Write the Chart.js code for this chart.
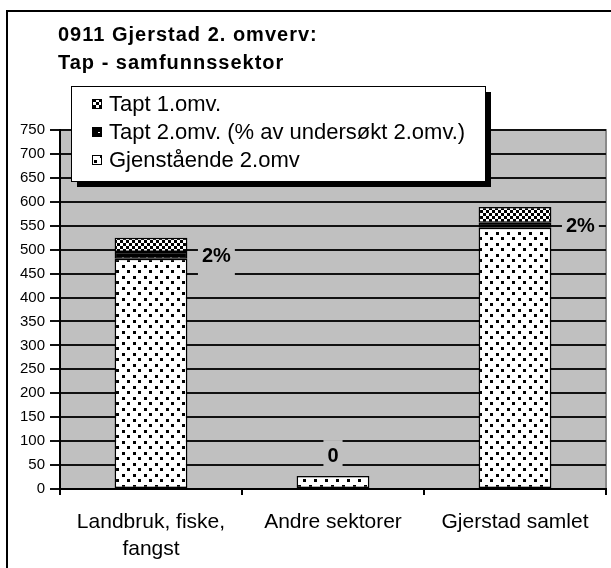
<!DOCTYPE html>
<html>
<head>
<meta charset="utf-8">
<script src="https://cdn.jsdelivr.net/npm/chart.js@4/dist/chart.umd.min.js"></script>
<style>
  html, body { margin: 0; padding: 0; background: #fff; overflow: hidden; }
  #wrap { width: 611px; height: 568px; }
</style>
</head>
<body>
<div id="wrap"><canvas id="c" width="611" height="568"></canvas></div>
<script>
// 0911 Gjerstad 2. omverv – tap per samfunnssektor (stacked bars, Excel-style patterns)
const TITLE = ["0911 Gjerstad 2. omverv:", "Tap - samfunnssektor"];
const CATEGORIES = [["Landbruk, fiske,", "fangst"], "Andre sektorer", "Gjerstad samlet"];
const GJENSTAENDE = [481, 27, 546];
const TAPT2 = [14, 0, 10];
const TAPT1 = [30, 0, 33];
const TAPT2_LABELS = ["2%", "0", "2%"];
const Y_TICKS = [0, 750, 50]; // min, max, step

const FONT = "'Liberation Sans', Arial, sans-serif";
const PLOT_BG = "#c0c0c0";

// --- fill patterns ---
function tile(w, h, draw) {
  const c = document.createElement("canvas");
  c.width = w; c.height = h;
  draw(c.getContext("2d"));
  return c.getContext("2d").createPattern(c, "repeat");
}
const dots = tile(11, 11, (g) => {
  g.fillStyle = "#fff"; g.fillRect(0, 0, 11, 11);
  g.fillStyle = "#000"; g.fillRect(1, 1, 3, 3); g.fillRect(6, 6, 3, 3);
});
const dashes = tile(8, 5, (g) => {
  g.fillStyle = "#000"; g.fillRect(0, 0, 8, 5);
  g.fillStyle = "#fff"; g.fillRect(2, 2, 2, 1);
});
const checker = tile(6, 6, (g) => {
  g.fillStyle = "#fff"; g.fillRect(0, 0, 6, 6);
  g.fillStyle = "#000"; g.fillRect(0, 0, 3, 3); g.fillRect(3, 3, 3, 3);
});

const SERIES = [
  { label: "Tapt 1.omv.", fill: checker },
  { label: "Tapt 2.omv. (% av undersøkt 2.omv.)", fill: dashes },
  { label: "Gjenstående 2.omv", fill: dots },
];

// frame, plot background, title
const backdrop = {
  id: "backdrop",
  beforeDraw(chart) {
    const { ctx, chartArea: a } = chart;
    ctx.save();
    ctx.fillStyle = PLOT_BG;
    ctx.fillRect(a.left, a.top, a.right - a.left, a.bottom - a.top);
    ctx.strokeStyle = "#8a8a8a"; ctx.lineWidth = 2;
    ctx.beginPath(); ctx.moveTo(a.left, a.top); ctx.lineTo(a.right, a.top); ctx.lineTo(a.right, a.bottom); ctx.stroke();
    ctx.strokeStyle = "#000"; ctx.lineWidth = 2;
    ctx.strokeRect(7, 11, 800, 800);
    ctx.fillStyle = "#000";
    ctx.font = `bold 20px ${FONT}`;
    ctx.textBaseline = "middle";
    ctx.letterSpacing = "1px";
    ctx.fillText(TITLE[0], 58, 35);
    ctx.fillText(TITLE[1], 58, 63);
    ctx.restore();
  },
};

// data labels for Tapt 2 with plot-coloured box, plus legend box
const overlay = {
  id: "overlay",
  afterDatasetsDraw(chart) {
    const { ctx } = chart;
    const top = chart.getDatasetMeta(0).data; // Tapt 1 (top of stack)
    const mid = chart.getDatasetMeta(1).data; // Tapt 2
    const y = chart.scales.y;
    ctx.save();
    ctx.font = `bold 20px ${FONT}`;
    ctx.textAlign = "center";
    ctx.textBaseline = "middle";
    TAPT2_LABELS.forEach((txt, i) => {
      const bar = mid[i];
      let cx, cy;
      if (TAPT2[i] > 0) {
        cx = bar.x + bar.width / 2 + 29;
        cy = (y.getPixelForValue(GJENSTAENDE[i]) + y.getPixelForValue(GJENSTAENDE[i] + TAPT2[i])) / 2 + 1;
      } else {
        cx = bar.x;
        cy = top[i].y - 20;
      }
      const w = ctx.measureText(txt).width;
      ctx.fillStyle = PLOT_BG;
      ctx.fillRect(cx - w / 2 - 4, cy - 16, w + 8, 35);
      ctx.fillStyle = "#000";
      ctx.fillText(txt, cx, cy);
    });
    ctx.restore();
  },
  afterDraw(chart) {
    const { ctx } = chart;
    const L = { x: 71, y: 86, w: 414, h: 95 };
    ctx.save();
    ctx.fillStyle = "#000";
    ctx.fillRect(L.x + 6, L.y + 6, L.w, L.h);
    ctx.fillStyle = "#fff";
    ctx.fillRect(L.x, L.y, L.w, L.h);
    ctx.strokeStyle = "#000"; ctx.lineWidth = 1;
    ctx.strokeRect(L.x + 0.5, L.y + 0.5, L.w, L.h);
    ctx.font = `22px ${FONT}`;
    ctx.textBaseline = "middle";
    SERIES.forEach((s, i) => {
      const cy = 104 + i * 28;
      ctx.fillStyle = s.fill;
      ctx.fillRect(92, cy - 5, 10, 10);
      ctx.strokeRect(92.5, cy - 4.5, 9, 9);
      ctx.fillStyle = "#000";
      ctx.fillText(s.label, 109, cy + 1);
    });
    ctx.restore();
  },
};

const ds = (label, data, fill) => ({
  label, data, backgroundColor: fill, borderColor: "#000", borderWidth: 1.5,
  borderSkipped: false, barPercentage: 0.4, categoryPercentage: 1,
});

new Chart(document.getElementById("c"), {
  type: "bar",
  data: {
    labels: CATEGORIES,
    datasets: [
      { ...ds(SERIES[0].label, TAPT1, SERIES[0].fill), order: 3 },
      { ...ds(SERIES[1].label, TAPT2, SERIES[1].fill), order: 2 },
      { ...ds(SERIES[2].label, GJENSTAENDE, SERIES[2].fill), order: 1 },
    ],
  },
  options: {
    responsive: false,
    animation: false,
    layout: { padding: { top: 130, right: 5, left: 0, bottom: 0 } },
    plugins: { legend: { display: false }, title: { display: false }, tooltip: { enabled: false } },
    scales: {
      x: {
        stacked: true,
        afterFit: (s) => { s.height = 79; },
        grid: { drawOnChartArea: false, drawTicks: true, tickLength: 6, color: "#000", lineWidth: 2, offset: true },
        border: { color: "#000", width: 2 },
        ticks: { color: "#000", padding: 14, maxRotation: 0, autoSkip: false, font: { family: FONT, size: 21, lineHeight: "27px" } },
      },
      y: {
        stacked: true,
        min: Y_TICKS[0], max: Y_TICKS[1],
        afterFit: (s) => { s.width = 60; },
        grid: { color: "#111", lineWidth: 2, tickLength: 10 },
        border: { color: "#000", width: 2 },
        ticks: { stepSize: Y_TICKS[2], color: "#000", padding: 5, font: { family: FONT, size: 15 } },
      },
    },
  },
  plugins: [backdrop, overlay],
});
</script>
</body>
</html>
